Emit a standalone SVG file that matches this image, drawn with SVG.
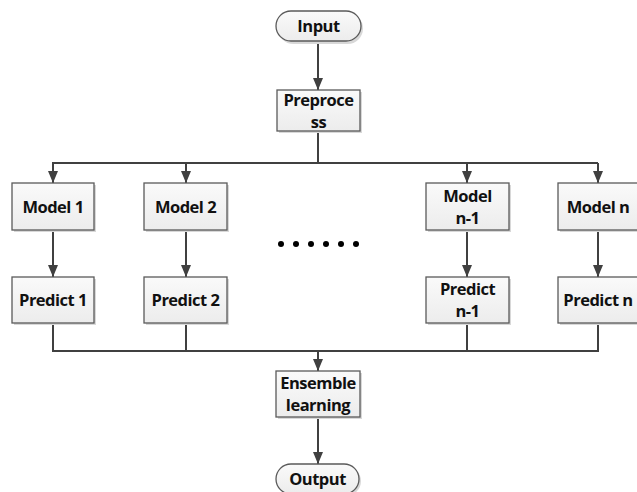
<svg xmlns="http://www.w3.org/2000/svg" width="637" height="492" viewBox="0 0 637 492">
<style>
.box{fill:url(#g);stroke:#5a5a5a;stroke-width:1.3}
.sh{fill:#d8d8d8}
.t{font-family:"Open Sans","Liberation Sans",sans-serif;font-weight:bold;font-size:16.5px;fill:#111;text-anchor:middle;letter-spacing:-0.5px}
.ln{stroke:#404040;stroke-width:2;fill:none}
.ar{stroke:#404040;stroke-width:2;fill:none;marker-end:url(#a)}
</style>
<defs>
<linearGradient id="g" x1="0" y1="0" x2="0" y2="1"><stop offset="0" stop-color="#fafafa"/><stop offset="1" stop-color="#ececec"/></linearGradient>
<marker id="a" viewBox="0 0 12 10" refX="12" refY="5" markerWidth="12" markerHeight="10" markerUnits="userSpaceOnUse" orient="auto"><path d="M0,0L12,5L0,10z" fill="#404040"/></marker>
</defs>
<rect width="637" height="492" fill="#fff"/>
<g id="connectors">
<line class="ar" x1="318" y1="41" x2="318" y2="90"/>
<line class="ln" x1="318" y1="131" x2="318" y2="163"/>
<line class="ln" x1="52" y1="163" x2="598" y2="163"/>
<line class="ar" x1="53" y1="163" x2="53" y2="183"/>
<line class="ar" x1="186" y1="163" x2="186" y2="183"/>
<line class="ar" x1="467" y1="163" x2="467" y2="183"/>
<line class="ar" x1="598" y1="163" x2="598" y2="183"/>
<line class="ar" x1="53" y1="230" x2="53" y2="277"/>
<line class="ar" x1="186" y1="230" x2="186" y2="277"/>
<line class="ar" x1="467" y1="230" x2="467" y2="277"/>
<line class="ar" x1="598" y1="230" x2="598" y2="277"/>
<line class="ln" x1="53" y1="323" x2="53" y2="351"/>
<line class="ln" x1="186" y1="323" x2="186" y2="351"/>
<line class="ln" x1="467" y1="323" x2="467" y2="351"/>
<line class="ln" x1="598" y1="323" x2="598" y2="351"/>
<line class="ln" x1="52" y1="351" x2="599" y2="351"/>
<line class="ar" x1="318" y1="351" x2="318" y2="371"/>
<line class="ar" x1="318" y1="417" x2="318" y2="464"/>
</g>
<g id="input"><rect class="sh" x="278" y="13" width="85" height="31" rx="15.5"/><rect class="box" x="276" y="11" width="85" height="30" rx="15"/><text class="t" x="318.5" y="32">Input</text></g>
<g id="preprocess"><rect class="sh" x="279" y="92" width="83" height="41"/><rect class="box" x="277" y="90" width="83" height="41"/><text class="t" x="318.5" y="106">Preproce</text><text class="t" x="318.5" y="128">ss</text></g>
<g id="model1"><rect class="sh" x="14" y="185" width="82" height="47"/><rect class="box" x="12" y="183" width="82" height="47"/><text class="t" x="53" y="213">Model 1</text></g>
<g id="model2"><rect class="sh" x="146" y="185" width="83" height="47"/><rect class="box" x="144" y="183" width="83" height="47"/><text class="t" x="185.5" y="213">Model 2</text></g>
<g id="modeln1"><rect class="sh" x="428" y="185" width="83" height="47"/><rect class="box" x="426" y="183" width="83" height="47"/><text class="t" x="467.5" y="202">Model</text><text class="t" x="467.5" y="224">n-1</text></g>
<g id="modeln"><rect class="sh" x="560" y="185" width="83" height="47"/><rect class="box" x="558" y="183" width="83" height="47"/><text class="t" x="598" y="213">Model n</text></g>
<g id="dots" fill="#000"><circle cx="281" cy="244" r="3"/><circle cx="296" cy="244" r="3"/><circle cx="311" cy="244" r="3"/><circle cx="326" cy="244" r="3"/><circle cx="341" cy="244" r="3"/><circle cx="356" cy="244" r="3"/></g>
<g id="predict1"><rect class="sh" x="14" y="279" width="82" height="46"/><rect class="box" x="12" y="277" width="82" height="46"/><text class="t" x="53" y="306">Predict 1</text></g>
<g id="predict2"><rect class="sh" x="146" y="279" width="83" height="46"/><rect class="box" x="144" y="277" width="83" height="46"/><text class="t" x="185.5" y="306">Predict 2</text></g>
<g id="predictn1"><rect class="sh" x="428" y="279" width="83" height="46"/><rect class="box" x="426" y="277" width="83" height="46"/><text class="t" x="467.5" y="295">Predict</text><text class="t" x="467.5" y="317">n-1</text></g>
<g id="predictn"><rect class="sh" x="560" y="279" width="83" height="46"/><rect class="box" x="558" y="277" width="83" height="46"/><text class="t" x="598" y="306">Predict n</text></g>
<g id="ensemble"><rect class="sh" x="278" y="373" width="84" height="46"/><rect class="box" x="276" y="371" width="84" height="46"/><text class="t" x="318" y="389">Ensemble</text><text class="t" x="318" y="411">learning</text></g>
<g id="output"><rect class="sh" x="278" y="466" width="83" height="30" rx="15"/><rect class="box" x="276" y="464" width="83" height="30" rx="15"/><text class="t" x="317.5" y="485">Output</text></g>
</svg>
